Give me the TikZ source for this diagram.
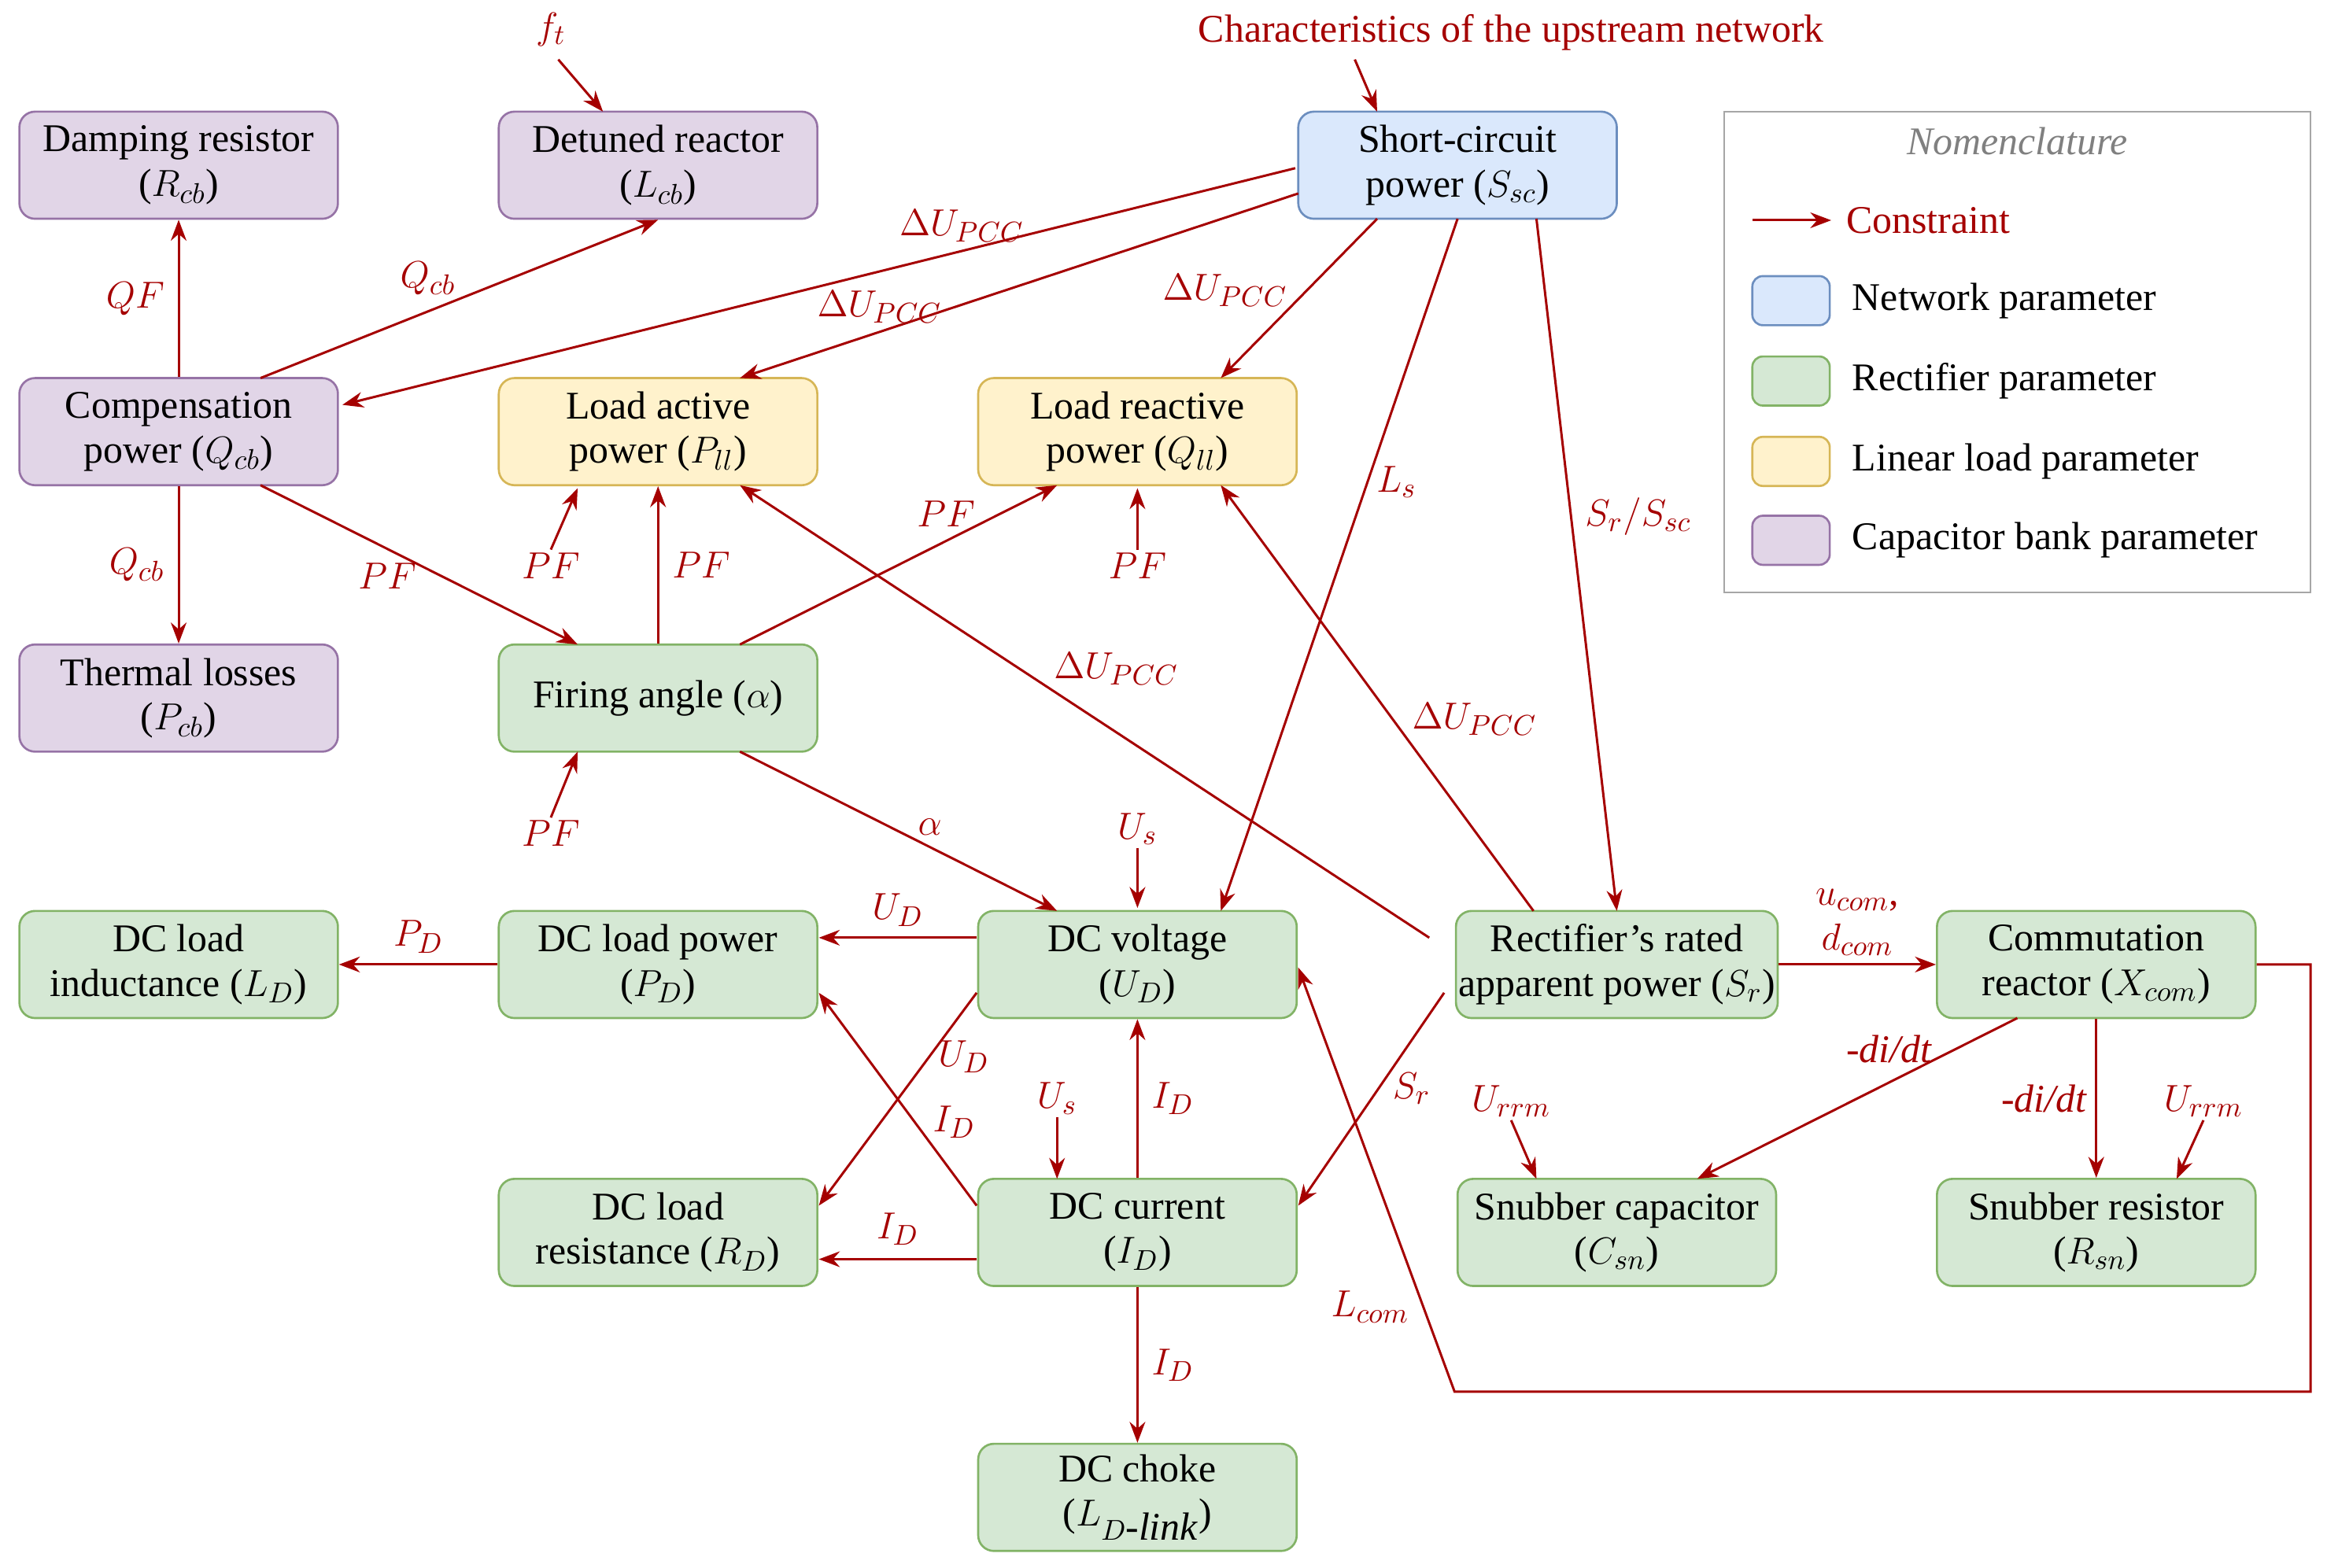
\documentclass[tikz,border=0pt]{standalone}
\usepackage{fontspec}
\setmainfont{Liberation Serif}
\usetikzlibrary{arrows.meta}
\definecolor{cr}{HTML}{A50000}
\definecolor{pf}{HTML}{E1D5E7}\definecolor{pd}{HTML}{9673A6}
\definecolor{bf}{HTML}{DAE8FC}\definecolor{bd}{HTML}{6C8EBF}
\definecolor{yf}{HTML}{FFF2CC}\definecolor{yd}{HTML}{D6B656}
\definecolor{gf}{HTML}{D5E8D4}\definecolor{gd}{HTML}{82B366}
\begin{document}
\begin{tikzpicture}[x=0.02cm,y=-0.02cm,
 box/.style={draw,rounded corners=6pt,minimum width=4.28cm,minimum height=1.44cm,align=center,inner sep=1pt,font=\fontsize{15}{17}\selectfont,line width=0.8pt},
 cb/.style={box,fill=pf, draw=pd},
 nw/.style={box,fill=bf, draw=bd},
 ll/.style={box,fill=yf, draw=yd},
 rc/.style={box,fill=gf, draw=gd},
 ar/.style={draw=cr,line width=0.9pt,-{Stealth[length=8pt,width=6pt]}},
 lb/.style={text=cr,font=\fontsize{15}{17}\selectfont,inner sep=1pt}]
\useasboundingbox (0,0) rectangle (1563,1053);
\node[cb] (damp) at (120,111) {Damping resistor\\($R_{cb}$)};
\node[cb] (det) at (442,111) {Detuned reactor\\($L_{cb}$)};
\node[nw] (ssc) at (979,111) {Short-circuit\\power ($S_{sc}$)};
\node[cb] (comp) at (120,290) {Compensation\\power ($Q_{cb}$)};
\node[ll] (lap) at (442,290) {Load active\\power ($P_{ll}$)};
\node[ll] (lrp) at (764,290) {Load reactive\\power ($Q_{ll}$)};
\node[cb] (therm) at (120,469) {Thermal losses\\($P_{cb}$)};
\node[rc] (fir) at (442,469) {Firing angle ($\alpha$)};
\node[rc] (dcl) at (120,648) {DC load\\inductance ($L_D$)};
\node[rc] (dcp) at (442,648) {DC load power\\($P_D$)};
\node[rc] (dcv) at (764,648) {DC voltage\\($U_D$)};
\node[rc] (rect) at (1086,648) {Rectifier's rated\\apparent power ($S_r$)};
\node[rc] (comm) at (1408,648) {Commutation\\reactor ($X_{com}$)};
\node[rc] (dcr) at (442,828) {DC load\\resistance ($R_D$)};
\node[rc] (dci) at (764,828) {DC current\\($I_D$)};
\node[rc] (snc) at (1086,828) {Snubber capacitor\\($C_{sn}$)};
\node[rc] (snr) at (1408,828) {Snubber resistor\\($R_{sn}$)};
\node[rc] (chk) at (764,1006) {DC choke\\($L_{D\textit{-link}}$)};
% external labels
\node[lb] (ft) at (370,20) {$f_t$};
\node[lb] (up) at (1015,22) {Characteristics of the upstream network};
\draw[ar] (375,40) -- (405,75);
\draw[ar] (910,40) -- (925,75);
% edges
\draw[ar] (comp.north) -- node[lb,left=4pt]{$QF$} (damp.south);
\draw[ar] (175,254) -- node[lb,above left=0pt]{$Q_{cb}$} (det.south);
\draw[ar] (870,113) -- node[lb,pos=0.35,above=2pt]{$\Delta U_{PCC}$} (230,272);
\draw[ar] (872,130) -- node[lb,pos=0.75,above=2pt]{$\Delta U_{PCC}$} (497,254);
\draw[ar] (925,147) -- node[lb,pos=0.45,left=6pt]{$\Delta U_{PCC}$} (820,254);
\draw[ar] (979,147) -- node[lb,pos=0.38,right=2pt]{$L_s$} (820,612);
\draw[ar] (1032,147) -- node[lb,pos=0.43,right=4pt]{$S_r/S_{sc}$} (1086,612);
\draw[ar] (comp.south) -- node[lb,left=4pt]{$Q_{cb}$} (therm.north);
\draw[ar] (175,326) -- node[lb,pos=0.4,below=4pt]{$PF$} (388,433);
\node[lb] (pf1) at (370,380) {$PF$}; \draw[ar] (pf1.north) -- (388,328);
\draw[ar] (fir.north) -- node[lb,right=4pt]{$PF$} (lap.south);
\draw[ar] (497,433) -- node[lb,pos=0.65,above=4pt]{$PF$} (710,326);
\node[lb] (pf2) at (764,380) {$PF$}; \draw[ar] (pf2.north) -- (764,328);
\draw[ar] (960,630) -- node[lb,pos=0.55,above right=0pt]{$\Delta U_{PCC}$} (497,326);
\draw[ar] (1030,612) -- node[lb,pos=0.45,right=6pt]{$\Delta U_{PCC}$} (820,326);
\node[lb] (pf3) at (370,560) {$PF$}; \draw[ar] (pf3.north) -- (388,505);
\draw[ar] (497,505) -- node[lb,pos=0.55,above right=0pt]{$\alpha$} (710,612);
\node[lb] (us1) at (764,557) {$U_s$}; \draw[ar] (us1.south) -- (764,610);
\draw[ar] (656,630) -- node[lb,above=3pt]{$U_D$} (550,630);
\draw[ar] (dcp.west) -- node[lb,above=3pt]{$P_D$} (dcl.east);
\draw[ar] (656,667) -- node[lb,pos=0.3,right=2pt]{$U_D$} (550,810);
\draw[ar] (656,810) -- node[lb,pos=0.3,above right=0pt]{$I_D$} (550,667);
\draw[ar] (656,846) -- node[lb,above=4pt]{$I_D$} (550,846);
\node[lb] (us2) at (710,738) {$U_s$}; \draw[ar] (us2.south) -- (710,792);
\draw[ar] (dci.north) -- node[lb,right=4pt]{$I_D$} (dcv.south);
\draw[ar] (970,667) -- node[lb,pos=0.45,right=4pt]{$S_r$} (872,810);
\draw[ar] (dci.south) -- node[lb,right=4pt]{$I_D$} (chk.north);
\draw[ar] (rect.east) -- node[lb,above=2pt,align=center]{$u_{com}$,\\$d_{com}$} (comm.west);
\coordinate (c1) at (1552,648); \coordinate (c2) at (1552,935); \coordinate (c3) at (977,935);
\draw[ar] (comm.east) -- (c1) -- (c2) -- (c3) -- node[lb,pos=0.2,left=4pt]{$L_{com}$} (872,650);
\draw[ar] (1355,684) -- node[lb,pos=0.4,above=6pt]{\textit{-di/dt}} (1140,792);
\draw[ar] (comm.south) -- node[lb,left=2pt]{\textit{-di/dt}} (snr.north);
\node[lb] (ur1) at (1015,740) {$U_{rrm}$}; \draw[ar] (ur1.south) -- (1032,792);
\node[lb] (ur2) at (1480,740) {$U_{rrm}$}; \draw[ar] (ur2.south) -- (1462,792);
% legend
\node[draw=gray!70,line width=0.8pt,minimum width=7.88cm,minimum height=6.46cm] (leg) at (1355,236.5) {};
\node[text=gray,font=\fontsize{15}{17}\selectfont\itshape] (nom) at (1355,95) {Nomenclature};
\coordinate (la) at (1177,148); \coordinate (lb2) at (1230,148);
\draw[ar] (la) -- (lb2);
\node[lb,anchor=west] (lc) at (1238,148) {Constraint};
\foreach \y/\f/\d/\t in {202/bf/bd/Network parameter,256/gf/gd/Rectifier parameter,310/yf/yd/Linear load parameter,363/pf/pd/Capacitor bank parameter}{
 \node[draw=\d,fill=\f,rounded corners=4pt,minimum width=1.04cm,minimum height=0.66cm,line width=0.8pt] at (1203,\y) {};
 \node[anchor=west,font=\fontsize{15}{17}\selectfont] at (1238,\y) {\t};}
\end{tikzpicture}
\end{document}
